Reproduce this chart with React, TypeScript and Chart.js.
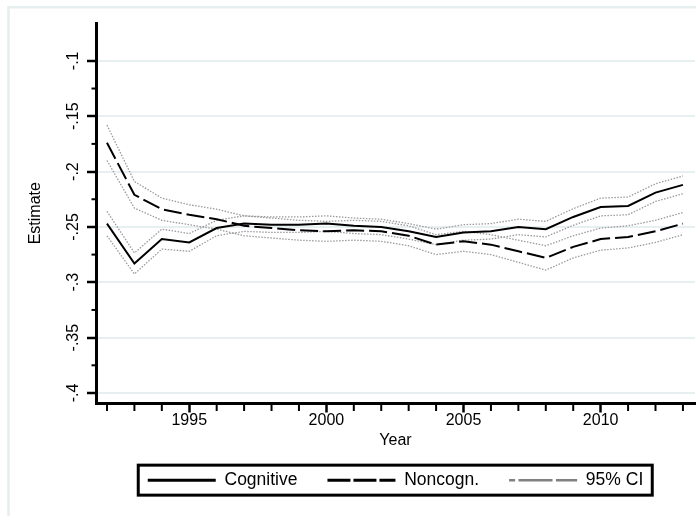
import { useEffect, useRef } from 'react';
import { Chart, registerables } from 'chart.js';

Chart.register(...registerables);

const years = [1992, 1993, 1994, 1995, 1996, 1997, 1998, 1999, 2000, 2001, 2002, 2003, 2004, 2005, 2006, 2007, 2008, 2009, 2010, 2011, 2012, 2013];

const cognitive = [-0.247, -0.283, -0.261, -0.264, -0.251, -0.247, -0.248, -0.248, -0.247, -0.249, -0.250, -0.254, -0.259, -0.255, -0.254, -0.250, -0.252, -0.241, -0.232, -0.231, -0.219, -0.212];
const cognitiveUpper = [-0.236, -0.2735, -0.252, -0.256, -0.244, -0.240, -0.241, -0.241, -0.240, -0.242, -0.243, -0.247, -0.252, -0.248, -0.247, -0.243, -0.245, -0.2335, -0.224, -0.223, -0.211, -0.204];
const cognitiveLower = [-0.258, -0.2925, -0.270, -0.272, -0.258, -0.254, -0.255, -0.255, -0.254, -0.256, -0.257, -0.261, -0.266, -0.262, -0.261, -0.257, -0.259, -0.2485, -0.240, -0.239, -0.227, -0.220];

const noncogn = [-0.174, -0.221, -0.234, -0.239, -0.243, -0.249, -0.251, -0.253, -0.254, -0.253, -0.254, -0.258, -0.266, -0.263, -0.266, -0.272, -0.278, -0.268, -0.261, -0.259, -0.254, -0.247];
const noncognUpper = [-0.158, -0.209, -0.224, -0.230, -0.234, -0.240, -0.242, -0.244, -0.245, -0.244, -0.245, -0.249, -0.257, -0.254, -0.257, -0.262, -0.267, -0.258, -0.251, -0.249, -0.244, -0.237];
const noncognLower = [-0.190, -0.233, -0.244, -0.248, -0.252, -0.258, -0.260, -0.262, -0.263, -0.262, -0.263, -0.267, -0.275, -0.272, -0.275, -0.282, -0.289, -0.278, -0.271, -0.269, -0.264, -0.257];

const xMajorTicks = [1995, 2000, 2005, 2010];
const yMajorTicks = [-0.4, -0.35, -0.3, -0.25, -0.2, -0.15, -0.1];
const yTickLabels = ['-.4', '-.35', '-.3', '-.25', '-.2', '-.15', '-.1'];
const yMinorTicks = [-0.375, -0.325, -0.275, -0.225, -0.175, -0.125];
const legendLabels = ['Cognitive', 'Noncogn.', '95% CI'];

const FONT = "'Liberation Sans', Arial, Helvetica, sans-serif";
const CI_COLOR = '#9a9a9a';

const toPoints = (vals: number[]) => years.map((yr, i) => ({ x: yr, y: vals[i] }));

const decorPlugin = {
  id: 'decor',
  beforeDraw(chart: any) {
    const ctx = chart.ctx;
    ctx.save();
    ctx.strokeStyle = '#e6eef0';
    ctx.lineWidth = 2.5;
    ctx.strokeRect(8.5, 7.2, 760, 580);
    ctx.restore();
  },
  afterDraw(chart: any) {
    const ctx = chart.ctx;
    const xs = chart.scales.x;
    const ys = chart.scales.y;
    ctx.save();
    ctx.strokeStyle = '#000';
    ctx.lineWidth = 2;
    const minorYears = years.filter((yr) => !xMajorTicks.includes(yr));
    for (const v of minorYears) {
      const px = xs.getPixelForValue(v);
      ctx.beginPath();
      ctx.moveTo(px, xs.top);
      ctx.lineTo(px, xs.top + 7.5);
      ctx.stroke();
    }
    for (const v of yMinorTicks) {
      const py = ys.getPixelForValue(v);
      ctx.beginPath();
      ctx.moveTo(ys.right - 4.5, py);
      ctx.lineTo(ys.right, py);
      ctx.stroke();
    }
    const lg = chart.legend;
    if (lg && lg.legendHitBoxes && lg.legendHitBoxes.length) {
      const hb = lg.legendHitBoxes;
      let l = Infinity, r = -Infinity, t = Infinity, b = -Infinity;
      for (const h of hb) {
        l = Math.min(l, h.left);
        r = Math.max(r, h.left + h.width);
        t = Math.min(t, h.top);
        b = Math.max(b, h.top + h.height);
      }
      const cy = (t + b) / 2;
      ctx.lineWidth = 3;
      ctx.strokeRect(l - 9.5, cy - 15, r - l + 9.5 + 9, 30);
    }
    ctx.restore();
  },
};

export default function App() {
  const ref = useRef<HTMLCanvasElement | null>(null);

  useEffect(() => {
    if (!ref.current) return;
    const ciStyle = {
      borderColor: CI_COLOR,
      borderWidth: 1.3,
      borderDash: [1.5, 1.5],
      pointRadius: 0,
      tension: 0,
      fill: false,
    };
    const chart = new Chart(ref.current, {
      type: 'line',
      data: {
        datasets: [
          { label: legendLabels[0], data: toPoints(cognitive), borderColor: '#000', borderWidth: 2, pointRadius: 0, tension: 0, fill: false },
          { label: legendLabels[1], data: toPoints(noncogn), borderColor: '#000', borderWidth: 2, borderDash: [18, 5], pointRadius: 0, tension: 0, fill: false },
          { label: legendLabels[2], data: toPoints(cognitiveUpper), ...ciStyle },
          { label: legendLabels[2], data: toPoints(cognitiveLower), ...ciStyle },
          { label: legendLabels[2], data: toPoints(noncognUpper), ...ciStyle },
          { label: legendLabels[2], data: toPoints(noncognLower), ...ciStyle },
        ],
      },
      options: {
        responsive: false,
        animation: false,
        devicePixelRatio: 1,
        events: [],
        layout: { padding: { left: 0, right: 1, top: 23, bottom: 17.1 } },
        scales: {
          x: {
            type: 'linear',
            position: 'bottom',
            min: 1991.6,
            max: 2013.44,
            afterBuildTicks: (s: any) => {
              s.ticks = xMajorTicks.map((v) => ({ value: v }));
            },
            afterFit: (s: any) => {
              s.height = 37.9;
            },
            ticks: {
              autoSkip: false,
              maxRotation: 0,
              minRotation: 0,
              padding: 0,
              color: '#000',
              font: { family: FONT, size: 16, lineHeight: 1 },
              callback: (v: any) => String(v),
            },
            grid: {
              display: true,
              drawOnChartArea: false,
              drawTicks: true,
              tickLength: 9,
              tickWidth: 2.5,
              tickColor: '#000',
            },
            border: { display: true, color: '#000', width: 3 },
            title: {
              display: true,
              text: 'Year',
              color: '#000',
              font: { family: FONT, size: 16, lineHeight: '2px' },
              padding: 0,
            },
          },
          y: {
            type: 'linear',
            position: 'left',
            min: -0.4095,
            max: -0.0658,
            afterBuildTicks: (s: any) => {
              s.ticks = yMajorTicks.map((v) => ({ value: v }));
            },
            afterFit: (s: any) => {
              s.width = 96;
            },
            ticks: {
              autoSkip: false,
              minRotation: 90,
              maxRotation: 90,
              crossAlign: 'center',
              padding: 0,
              color: '#000',
              font: { family: FONT, size: 16, lineHeight: 1 },
              callback: (v: any) => {
                const i = yMajorTicks.findIndex((t) => Math.abs(t - Number(v)) < 1e-9);
                return i >= 0 ? yTickLabels[i] : '';
              },
            },
            grid: {
              display: true,
              drawOnChartArea: true,
              drawTicks: true,
              color: '#e8eff1',
              lineWidth: 2,
              tickLength: 9,
              tickWidth: 2.5,
              tickColor: '#000',
            },
            border: { display: true, color: '#000', width: 3 },
            title: {
              display: true,
              text: 'Estimate',
              color: '#000',
              font: { family: FONT, size: 16, lineHeight: 1 },
              padding: { top: 28, bottom: 0 },
            },
          },
        },
        plugins: {
          tooltip: { enabled: false },
          legend: {
            display: true,
            position: 'bottom',
            fullSize: false,
            labels: {
              usePointStyle: true,
              pointStyleWidth: 68,
              padding: 30,
              color: '#000',
              font: { family: FONT, size: 17.5 },
              generateLabels: () => [
                { text: legendLabels[0], strokeStyle: '#000', fillStyle: 'transparent', lineWidth: 3, lineDash: [], pointStyle: 'line', hidden: false, datasetIndex: 0, fontColor: '#000' },
                { text: legendLabels[1], strokeStyle: '#000', fillStyle: 'transparent', lineWidth: 3, lineDash: [23, 3], pointStyle: 'line', hidden: false, datasetIndex: 1, fontColor: '#000' },
                { text: legendLabels[2], strokeStyle: '#808080', fillStyle: 'transparent', lineWidth: 2.5, lineDash: [34, 3.4], lineDashOffset: 28, pointStyle: 'line', hidden: false, datasetIndex: 2, fontColor: '#000' },
              ],
            },
          },
        },
      } as any,
      plugins: [decorPlugin],
    });
    return () => chart.destroy();
  }, []);

  return (
    <div style={{ position: 'absolute', left: 0, top: 0, width: 696, height: 516, background: '#fff' }}>
      <canvas ref={ref} width={696} height={516} style={{ display: 'block', width: 696, height: 516 }} />
    </div>
  );
}
